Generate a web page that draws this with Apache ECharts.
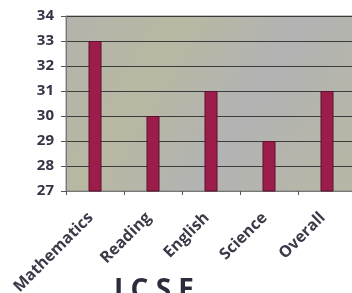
<!DOCTYPE html>
<html><head><meta charset="utf-8">
<script src="https://cdn.jsdelivr.net/npm/echarts@6/dist/echarts.min.js"></script>
<style>html,body{margin:0;padding:0;background:#fff}#c{width:352px;height:293px}</style>
</head><body><div id="c"></div>
<script>
const categories = ["Mathematics", "Reading", "English", "Science", "Overall"];
const values = [33, 30, 31, 29, 31];
const yMin = 27, yMax = 34;
const subtitle = "I C S E";

const chart = echarts.init(document.getElementById('c'));
chart.setOption({
  animation: false,
  backgroundColor: '#ffffff',
  graphic: [{
    type: 'text', left: 114, top: 277,
    style: { text: subtitle, font: 'bold 28px "Open Sans", sans-serif', fill: '#2c2c3c' }
  }],
  grid: { left: 66, top: 16, right: -4, bottom: 102, show: true, containLabel: false, outerBoundsMode: 'none',
    backgroundColor: new echarts.graphic.LinearGradient(0, 0, 1, 1, [
      { offset: 0, color: '#b3b3ad' },
      { offset: 0.3, color: '#b9b8a2' },
      { offset: 0.6, color: '#b2b3b3' },
      { offset: 1, color: '#b8b7a4' }
    ]),
    borderColor: '#8a8a8a', borderWidth: 1 },
  xAxis: {
    type: 'category', data: categories,
    axisLine: { lineStyle: { color: '#777', width: 1 } },
    axisTick: { show: true, length: 4, lineStyle: { color: '#555' } },
    axisLabel: { rotate: 45, margin: 20, padding: [0, 6, 0, 0], color: '#3a3a48', fontWeight: 'bold', fontSize: 16, fontFamily: '"Open Sans", sans-serif' }
  },
  yAxis: {
    type: 'value', min: yMin, max: yMax, interval: 1,
    axisLine: { show: true, lineStyle: { color: '#777', width: 1 } },
    axisTick: { show: true, length: 5, lineStyle: { color: '#555' } },
    axisLabel: { margin: 12, color: '#353548', fontWeight: 'bold', fontSize: 15, fontFamily: '"Open Sans", sans-serif' },
    splitLine: { lineStyle: { color: '#3c3c3c', width: 1.2 } }
  },
  series: [{
    type: 'bar', data: values, barWidth: 13,
    itemStyle: { color: '#9c1c4a', borderColor: '#5a1030', borderWidth: 1 }
  }]
});
</script></body></html>
